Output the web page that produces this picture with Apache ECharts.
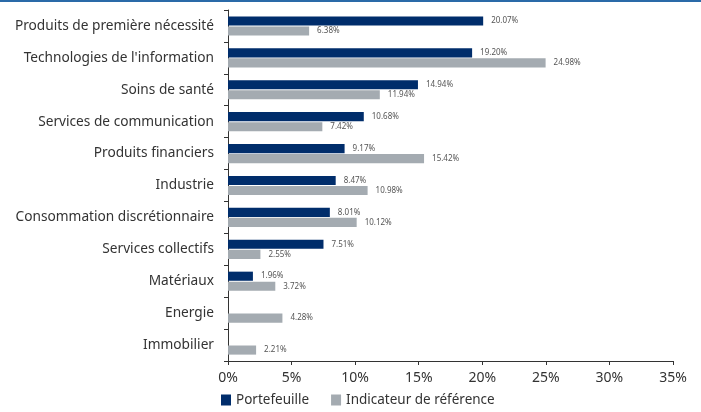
<!DOCTYPE html>
<html><head><meta charset="utf-8">
<script src="https://cdn.jsdelivr.net/npm/echarts@6/dist/echarts.min.js"></script>
<style>html,body{margin:0;padding:0;background:#fff}#c{width:701px;height:412px}</style>
</head><body><div id="c"></div>
<script>
const categories = ["Produits de première nécessité","Technologies de l'information","Soins de santé","Services de communication","Produits financiers","Industrie","Consommation discrétionnaire","Services collectifs","Matériaux","Energie","Immobilier"];
const portefeuille = [20.07,19.20,14.94,10.68,9.17,8.47,8.01,7.51,1.96,null,null];
const indicateur = [6.38,24.98,11.94,7.42,15.42,10.98,10.12,2.55,3.72,4.28,2.21];
const seriesNames = ["Portefeuille","Indicateur de référence"];
const xTicks = [0,5,10,15,20,25,30,35];

const chart = echarts.init(document.getElementById('c'));
const FONT = 'Noto Sans';
const lbl = {show:true, position:'right', distance:8, fontSize:8, color:'#555', fontFamily:FONT,
  formatter: p => p.value == null ? '' : p.value.toFixed(2) + '%'};
chart.setOption({
  animation:false,
  graphic:[{type:'rect', shape:{x:0,y:0,width:701,height:2}, style:{fill:'#2a6aa8'}}],
  grid:{left:228,right:28,top:10,bottom:51},
  legend:{bottom:0,left:216,itemWidth:10,itemHeight:11,itemGap:22,icon:'rect',
    textStyle:{fontSize:13.5,color:'#333',fontFamily:FONT}, data:seriesNames},
  xAxis:{type:'value',min:xTicks[0],max:xTicks[xTicks.length-1],interval:5,
    axisLine:{show:true,lineStyle:{color:'#333'}},axisTick:{show:true,length:4,lineStyle:{color:'#333'}},
    splitLine:{show:false},
    axisLabel:{fontSize:14,color:'#333',fontFamily:FONT,margin:10,formatter:v=>v+'%'}},
  yAxis:{type:'category',data:categories,inverse:true,
    axisLine:{lineStyle:{color:'#333'}},axisTick:{show:true,length:4,lineStyle:{color:'#333'}},
    axisLabel:{fontSize:13.7,color:'#333',fontFamily:FONT,margin:14}},
  series:[
    {name:seriesNames[0],type:'bar',data:portefeuille,itemStyle:{color:'#002d6b'},barGap:'10%',barCategoryGap:'40%',label:lbl},
    {name:seriesNames[1],type:'bar',data:indicateur,itemStyle:{color:'#a4abb1'},label:lbl}
  ]
});
</script></body></html>
